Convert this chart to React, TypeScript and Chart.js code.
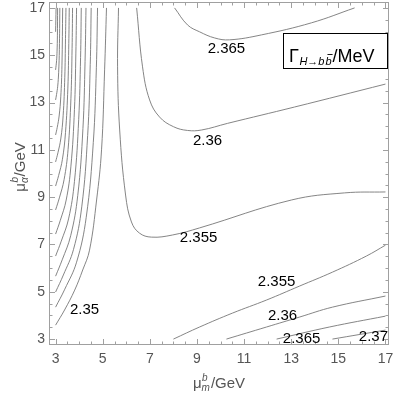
import React, { useEffect, useRef } from 'react';
import { Chart, registerables } from 'chart.js';
Chart.register(...registerables);

// ---- data: contour lines as [x, y] points (x = mu_m^b, y = mu_alpha^b) ----
// left family (values below 2.35), from right to left
const c2350 = [[5.16, 17.0], [5.08, 14.38], [4.95, 11.0], [4.74, 8.88], [4.44, 6.76], [4.15, 5.92], [3.81, 5.07], [3.38, 4.23], [3.0, 3.59]];
const cL1 = [[4.78, 17.0], [4.73, 14.47], [4.60, 11.31], [4.30, 8.15], [3.89, 6.25], [3.39, 5.11], [3.0, 4.35]];
const cL2 = [[4.51, 17.0], [4.47, 14.60], [4.36, 11.60], [4.11, 8.59], [3.76, 6.79], [3.33, 5.71], [3.0, 4.99]];
const cL3 = [[4.29, 17.0], [4.25, 14.73], [4.16, 11.90], [3.94, 9.07], [3.64, 7.37], [3.28, 6.35], [3.0, 5.66]];
const cL4 = [[4.09, 17.0], [4.06, 14.90], [3.98, 12.28], [3.80, 9.66], [3.55, 8.08], [3.24, 7.14], [3.0, 6.51]];
const cL5 = [[3.89, 17.0], [3.86, 15.09], [3.80, 12.70], [3.65, 10.31], [3.45, 8.88], [3.20, 8.02], [3.0, 7.44]];
const cL6 = [[3.72, 17.0], [3.70, 15.29], [3.65, 13.16], [3.53, 11.02], [3.36, 9.74], [3.16, 8.97], [3.0, 8.46]];
const cL7 = [[3.58, 17.0], [3.56, 15.50], [3.52, 13.61], [3.42, 11.73], [3.29, 10.60], [3.13, 9.92], [3.0, 9.47]];
const cL8 = [[3.44, 17.0], [3.42, 15.70], [3.39, 14.07], [3.32, 12.44], [3.22, 11.46], [3.10, 10.88], [3.0, 10.49]];
const cL9 = [[3.30, 17.0], [3.27, 14.58], [3.22, 13.24], [3.15, 12.43], [3.07, 11.95], [3.0, 11.63]];
const cL10 = [[3.18, 17.0], [3.16, 15.25], [3.13, 14.28], [3.09, 13.69], [3.04, 13.34], [3.0, 13.11]];
const cL11 = [[3.085, 17.0], [3.077, 15.82], [3.062, 15.17], [3.042, 14.77], [3.0, 14.38]];
const cL12 = [[3.02, 17.0], [3.0, 15.99]];
// valley curves
const c2355a = [[5.67, 17.0], [5.63, 14.51], [5.72, 11.84], [5.97, 9.09], [6.22, 7.95], [6.56, 7.48], [7.07, 7.31], [7.96, 7.40], [9.11, 7.70], [13.01, 8.88], [15.26, 9.18], [17.0, 9.22]];
const c2360a = [[6.44, 17.0], [6.69, 14.51], [6.99, 13.11], [7.41, 12.39], [8.0, 11.98], [8.6, 11.82], [9.2, 11.84], [10.30, 12.12], [13.14, 12.81], [17.0, 13.78]];
const c2365a = [[8.05, 17.0], [8.60, 16.28], [9.11, 15.99], [9.75, 15.73], [10.38, 15.65], [11.74, 15.86], [13.86, 16.37], [15.69, 17.0]];
// lower-right curves
const c2355b = [[8.0, 3.0], [9.11, 3.51], [10.51, 4.10], [11.95, 4.65], [13.35, 5.24], [14.75, 5.83], [16.19, 6.51], [17.0, 6.97]];
const c2360b = [[10.25, 3.0], [11.95, 3.51], [13.35, 3.93], [14.75, 4.35], [17.0, 4.82]];
const c2365b = [[12.38, 3.0], [14.62, 3.51], [17.0, 3.97]];
const c2370b = [[14.75, 3.0], [17.0, 3.38]];

const contours = [c2350, cL1, cL2, cL3, cL4, cL5, cL6, cL7, cL8, cL9, cL10, cL11, cL12,
  c2355a, c2360a, c2365a, c2355b, c2360b, c2365b, c2370b];

// contour labels
const labelText = ['2.365', '2.36', '2.355', '2.35', '2.355', '2.36', '2.365', '2.37'];
const labelX = [10.25, 9.45, 9.07, 4.23, 12.38, 12.63, 13.44, 16.49];
const labelY = [15.27, 11.38, 7.27, 4.23, 5.41, 3.97, 3.0, 3.08];

// ticks
const xTicks = [3, 5, 7, 9, 11, 13, 15, 17];
const yTicks = [3, 5, 7, 9, 11, 13, 15, 17];

const FONT = '"Liberation Sans", Arial, sans-serif';
const LINE = 'rgba(120,120,120,0.9)';
const FRAME = '#a0a0a0';
const TICKTXT = '#555555';

function drawTitle(ctx: CanvasRenderingContext2D, cx: number, baseline: number, sub: string, sup: string) {
  const main = '15px ' + FONT;
  const small = 'italic 10px ' + FONT;
  ctx.font = main;
  const wMu = ctx.measureText('μ').width;
  const wRest = ctx.measureText('/GeV').width;
  ctx.font = small;
  const wS = Math.max(ctx.measureText(sub).width, ctx.measureText(sup).width);
  const total = wMu + wS + 1 + wRest;
  let x = cx - total / 2;
  ctx.textAlign = 'left';
  ctx.textBaseline = 'alphabetic';
  ctx.font = main;
  ctx.fillText('μ', x, baseline);
  x += wMu;
  ctx.font = small;
  ctx.fillText(sup, x + 0.5, baseline - 7);
  ctx.fillText(sub, x, baseline + 3);
  x += wS + 1;
  ctx.font = main;
  ctx.fillText('/GeV', x, baseline);
}

const overlay = {
  id: 'overlay',
  afterDatasetsDraw(chart: any) {
    const { ctx, chartArea: a } = chart;
    const xs = chart.scales.x;
    const ys = chart.scales.y;
    ctx.save();
    // frame
    ctx.strokeStyle = FRAME;
    ctx.lineWidth = 1;
    ctx.strokeRect(a.left + 0.5, a.top + 0.5, a.right - a.left - 1, a.bottom - a.top - 1);
    ctx.beginPath();
    for (let i = 0; i <= 28; i++) {
      const v = 3 + i * 0.5;
      const len = i % 4 === 0 ? 6 : 3.5;
      const px = Math.round(xs.getPixelForValue(v)) + 0.5;
      ctx.moveTo(px, a.bottom); ctx.lineTo(px, a.bottom - len);
      ctx.moveTo(px, a.top); ctx.lineTo(px, a.top + len);
      const py = Math.round(ys.getPixelForValue(v)) + 0.5;
      ctx.moveTo(a.left, py); ctx.lineTo(a.left + len, py);
      ctx.moveTo(a.right, py); ctx.lineTo(a.right - len, py);
    }
    ctx.stroke();

    // contour labels
    ctx.fillStyle = '#000';
    ctx.font = '15px ' + FONT;
    ctx.textAlign = 'center';
    ctx.textBaseline = 'middle';
    labelText.forEach((t, i) => {
      ctx.fillText(t, xs.getPixelForValue(labelX[i]), ys.getPixelForValue(labelY[i]));
    });

    // axis titles
    ctx.fillStyle = TICKTXT;
    drawTitle(ctx, (a.left + a.right) / 2, 388, 'm', 'b');
    ctx.save();
    ctx.translate(25, 167);
    ctx.rotate(-Math.PI / 2);
    drawTitle(ctx, 0, 0, 'α', 'b');
    ctx.restore();

    // legend box
    const bx = a.right - 106, by = a.top + 31, bw = 104, bh = 35;
    ctx.fillStyle = '#fff';
    ctx.fillRect(bx, by, bw, bh);
    ctx.strokeStyle = '#000';
    ctx.lineWidth = 1;
    ctx.strokeRect(bx + 0.5, by + 0.5, bw, bh);
    ctx.fillStyle = '#000';
    ctx.textAlign = 'left';
    ctx.textBaseline = 'alphabetic';
    let tx = bx + 6;
    const base = by + 29;
    ctx.font = '18px ' + FONT;
    ctx.fillText('Γ', tx, base);
    tx += ctx.measureText('Γ').width + 0.5;
    ctx.font = 'italic 11px ' + FONT;
    ctx.fillText('H→b', tx, base + 3);
    tx += ctx.measureText('H→b').width + 1;
    const wb = ctx.measureText('b').width;
    ctx.fillText('b', tx, base + 3);
    ctx.beginPath();
    ctx.moveTo(tx + 2, base - 7.5);
    ctx.lineTo(tx + wb + 1, base - 7.5);
    ctx.lineWidth = 0.9;
    ctx.stroke();
    tx += wb + 1;
    ctx.font = '18px ' + FONT;
    ctx.fillText('/MeV', tx, base);
    ctx.restore();
  },
};

const zeroPad = (s: any) => {
  s.paddingLeft = 0;
  s.paddingRight = 0;
  s.paddingTop = 0;
  s.paddingBottom = 0;
};

export default function App() {
  const ref = useRef<HTMLCanvasElement | null>(null);
  useEffect(() => {
    if (!ref.current) return;
    const chart = new Chart(ref.current, {
      type: 'scatter',
      data: {
        datasets: contours.map((c) => ({
          data: c.map(([x, y]) => ({ x, y })),
          showLine: true,
          borderColor: LINE,
          borderWidth: 1,
          pointRadius: 0,
          tension: 0.4,
          fill: false,
        })),
      },
      options: {
        responsive: false,
        animation: false,
        devicePixelRatio: 1,
        layout: { padding: { top: 2, right: 6, bottom: 0, left: 0 } },
        plugins: { legend: { display: false }, tooltip: { enabled: false } },
        scales: {
          x: {
            type: 'linear',
            min: 2.72,
            max: 17.15,
            afterBuildTicks: (s: any) => { s.ticks = xTicks.map((v) => ({ value: v })); },
            afterFit: (s: any) => { s.height = 52; zeroPad(s); },
            grid: { display: false, drawTicks: false },
            border: { display: false },
            ticks: { color: TICKTXT, font: { size: 14, family: FONT }, padding: 6, maxRotation: 0, autoSkip: false },
          },
          y: {
            type: 'linear',
            min: 2.75,
            max: 17.25,
            afterBuildTicks: (s: any) => { s.ticks = yTicks.map((v) => ({ value: v })); },
            afterFit: (s: any) => { s.width = 49; zeroPad(s); },
            grid: { display: false, drawTicks: false },
            border: { display: false },
            ticks: { color: TICKTXT, font: { size: 14, family: FONT }, padding: 4, autoSkip: false },
          },
        },
      },
      plugins: [overlay],
    });
    return () => chart.destroy();
  }, []);
  return (
    <div style={{ position: 'fixed', left: 0, top: 0, width: 395, height: 397, background: '#fff' }}>
      <canvas ref={ref} width={395} height={397} style={{ display: 'block' }} />
    </div>
  );
}
